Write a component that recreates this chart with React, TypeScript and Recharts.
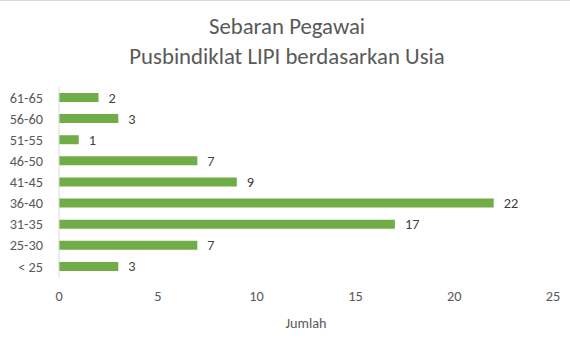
import React from "react";
import { BarChart, Bar, XAxis, YAxis, LabelList, Label } from "recharts";

const categories = ["61-65", "56-60", "51-55", "46-50", "41-45", "36-40", "31-35", "25-30", "< 25"];
const jumlah = [2, 3, 1, 7, 9, 22, 17, 7, 3];
const xTicks = [0, 5, 10, 15, 20, 25];
const titleLines = ["Sebaran Pegawai", "Pusbindiklat LIPI berdasarkan Usia"];

const data = categories.map((c, i) => ({ usia: c, jumlah: jumlah[i] }));

const FONT = "Carlito, Calibri, 'Open Sans', sans-serif";
const FS = 14.3;

export default function App() {
  return (
    <div style={{ position: "relative", width: 570, height: 340, background: "#fff", fontFamily: FONT }}>
      <style>{"body{margin:0}"}</style>
      <div style={{ position: "absolute", left: 0, top: 0, width: 570, height: 1, background: "#d9d9d9" }} />
      <div
        style={{
          position: "absolute",
          left: 0,
          top: 11,
          width: 574,
          textAlign: "center",
          color: "#595959",
          fontSize: 22.8,
          lineHeight: "30px",
          fontFamily: FONT,
        }}
      >
        {titleLines.map((t) => (
          <div key={t}>{t}</div>
        ))}
      </div>
      <BarChart
        width={570}
        height={340}
        data={data}
        layout="vertical"
        margin={{ top: 87, right: 17, bottom: 0, left: 0 }}
        barCategoryGap={6}
      >
        <XAxis
          type="number"
          domain={[0, 25]}
          ticks={xTicks}
          axisLine={false}
          tickLine={false}
          tickSize={0}
          tickMargin={14}
          height={63}
          tick={{ fill: "#595959", fontSize: FS, fontFamily: FONT }}
        >
          <Label value="Jumlah" position="insideBottom" offset={12} fill="#595959" fontSize={FS} fontFamily={FONT} />
        </XAxis>
        <YAxis
          type="category"
          dataKey="usia"
          width={59}
          axisLine={{ stroke: "#d9d9d9" }}
          tickLine={false}
          tickSize={0}
          tickMargin={16}
          interval={0}
          tick={{ fill: "#595959", fontSize: FS, fontFamily: FONT }}
        />
        <Bar dataKey="jumlah" fill="#70ad47" barSize={9} isAnimationActive={false}>
          <LabelList dataKey="jumlah" position="right" offset={10} fill="#404040" fontSize={FS} fontFamily={FONT} />
        </Bar>
      </BarChart>
    </div>
  );
}
